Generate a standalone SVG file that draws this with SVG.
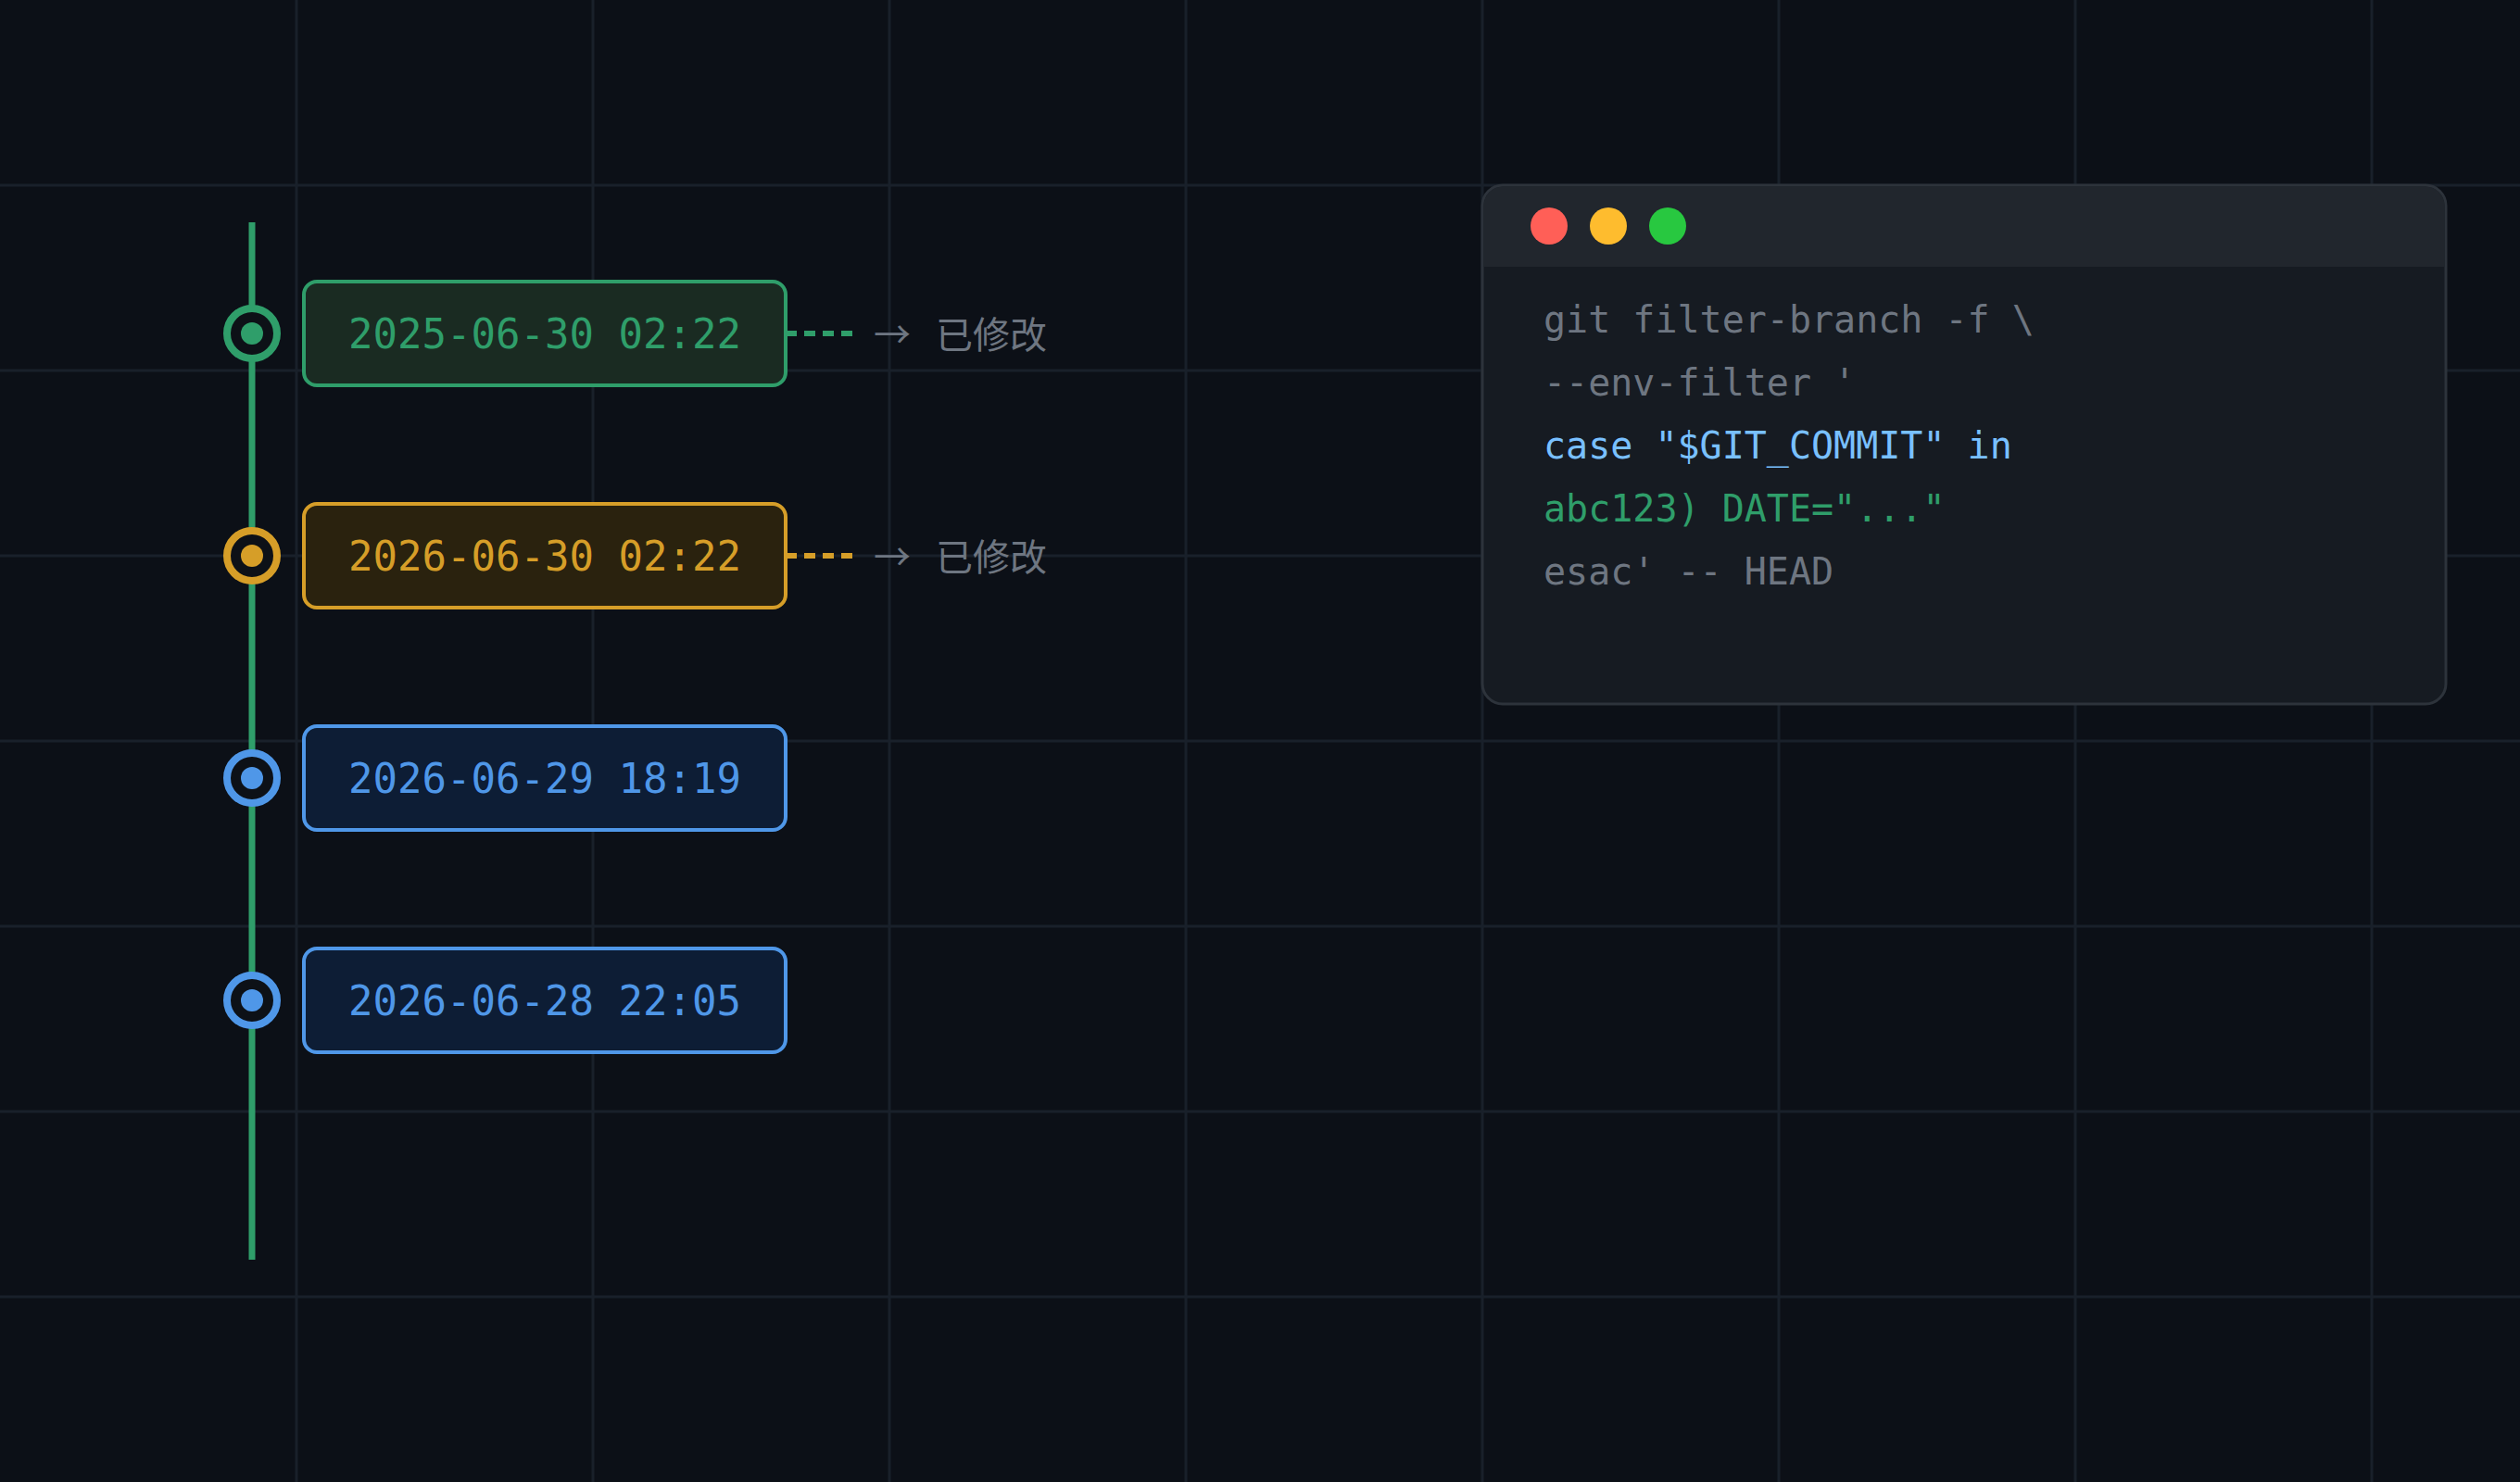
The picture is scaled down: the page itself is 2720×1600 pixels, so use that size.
<svg xmlns="http://www.w3.org/2000/svg" width="2720" height="1600" viewBox="0 0 2720 1600">
  <style>
    .grid line { stroke: #19202a; stroke-width: 3; }
    .date { font-family: "DejaVu Sans Mono", "Liberation Mono", monospace; font-size: 44px; text-anchor: middle; }
    .code { font-family: "DejaVu Sans Mono", "Liberation Mono", monospace; font-size: 40px; }
    .note { font-family: "Noto Sans CJK SC", "Noto Sans", sans-serif; font-size: 40px; fill: #6e7681; }
    .green { stroke: #2f9e6a; }
    .amber { stroke: #d69e28; }
    .blue { stroke: #4f97e8; }
    .ring { fill: #0d1117; stroke-width: 8; }
    .box { stroke-width: 4; }
    .dash { stroke-width: 6; stroke-dasharray: 12 8; fill: none; }
  </style>
  <rect x="0" y="0" width="2720" height="1600" fill="#0c1017"/>
  <g class="grid">
    <line x1="320" y1="0" x2="320" y2="1600"/>
    <line x1="640" y1="0" x2="640" y2="1600"/>
    <line x1="960" y1="0" x2="960" y2="1600"/>
    <line x1="1280" y1="0" x2="1280" y2="1600"/>
    <line x1="1600" y1="0" x2="1600" y2="1600"/>
    <line x1="1920" y1="0" x2="1920" y2="1600"/>
    <line x1="2240" y1="0" x2="2240" y2="1600"/>
    <line x1="2560" y1="0" x2="2560" y2="1600"/>
    <line x1="0" y1="200" x2="2720" y2="200"/>
    <line x1="0" y1="400" x2="2720" y2="400"/>
    <line x1="0" y1="600" x2="2720" y2="600"/>
    <line x1="0" y1="800" x2="2720" y2="800"/>
    <line x1="0" y1="1000" x2="2720" y2="1000"/>
    <line x1="0" y1="1200" x2="2720" y2="1200"/>
    <line x1="0" y1="1400" x2="2720" y2="1400"/>
  </g>
  <g id="connectors">
    <line id="timeline" x1="272" y1="240" x2="272" y2="1360" stroke="#2f9e6a" stroke-width="7"/>
    <line class="dash green" x1="848" y1="360" x2="920" y2="360"/>
    <line class="dash amber" x1="848" y1="600" x2="920" y2="600"/>
  </g>
  <g id="commit1">
    <circle class="ring green" cx="272" cy="360" r="27"/>
    <circle cx="272" cy="360" r="12" fill="#2f9e6a"/>
    <rect class="box green" x="328" y="304" width="520" height="112" rx="14" fill="#1a2b22"/>
    <text class="date" x="588" y="376" fill="#2f9e6a">2025-06-30 02:22</text>
  </g>
  <g id="note1">
    <text class="note" x="943" y="376">→<tspan x="1010">已修改</tspan></text>
  </g>
  <g id="commit2">
    <circle class="ring amber" cx="272" cy="600" r="27"/>
    <circle cx="272" cy="600" r="12" fill="#d69e28"/>
    <rect class="box amber" x="328" y="544" width="520" height="112" rx="14" fill="#2a220e"/>
    <text class="date" x="588" y="616" fill="#d69e28">2026-06-30 02:22</text>
  </g>
  <g id="note2">
    <text class="note" x="943" y="616">→<tspan x="1010">已修改</tspan></text>
  </g>
  <g id="commit3">
    <circle class="ring blue" cx="272" cy="840" r="27"/>
    <circle cx="272" cy="840" r="12" fill="#4f97e8"/>
    <rect class="box blue" x="328" y="784" width="520" height="112" rx="14" fill="#0d1d35"/>
    <text class="date" x="588" y="856" fill="#4f97e8">2026-06-29 18:19</text>
  </g>
  <g id="commit4">
    <circle class="ring blue" cx="272" cy="1080" r="27"/>
    <circle cx="272" cy="1080" r="12" fill="#4f97e8"/>
    <rect class="box blue" x="328" y="1024" width="520" height="112" rx="14" fill="#0d1d35"/>
    <text class="date" x="588" y="1096" fill="#4f97e8">2026-06-28 22:05</text>
  </g>
  <g id="terminal">
    <rect x="1600" y="200" width="1040" height="560" rx="22" fill="#161b22" stroke="#2d333b" stroke-width="3"/>
    <path d="M1601.5 288 V222 A20.5 20.5 0 0 1 1622 201.5 H2618 A20.5 20.5 0 0 1 2638.5 222 V288 Z" fill="#21262d"/>
    <circle cx="1672" cy="244" r="20" fill="#ff5f57"/>
    <circle cx="1736" cy="244" r="20" fill="#febc2e"/>
    <circle cx="1800" cy="244" r="20" fill="#28c840"/>
    <text class="code" x="1666" y="359" fill="#6e7681">git filter-branch -f \</text>
    <text class="code" x="1666" y="427" fill="#6e7681">--env-filter '</text>
    <text class="code" x="1666" y="495" fill="#79c0ff">case "$GIT_COMMIT" in</text>
    <text class="code" x="1666" y="563" fill="#2f9e6a">abc123) DATE="..."</text>
    <text class="code" x="1666" y="631" fill="#6e7681">esac' -- HEAD</text>
  </g>
</svg>
